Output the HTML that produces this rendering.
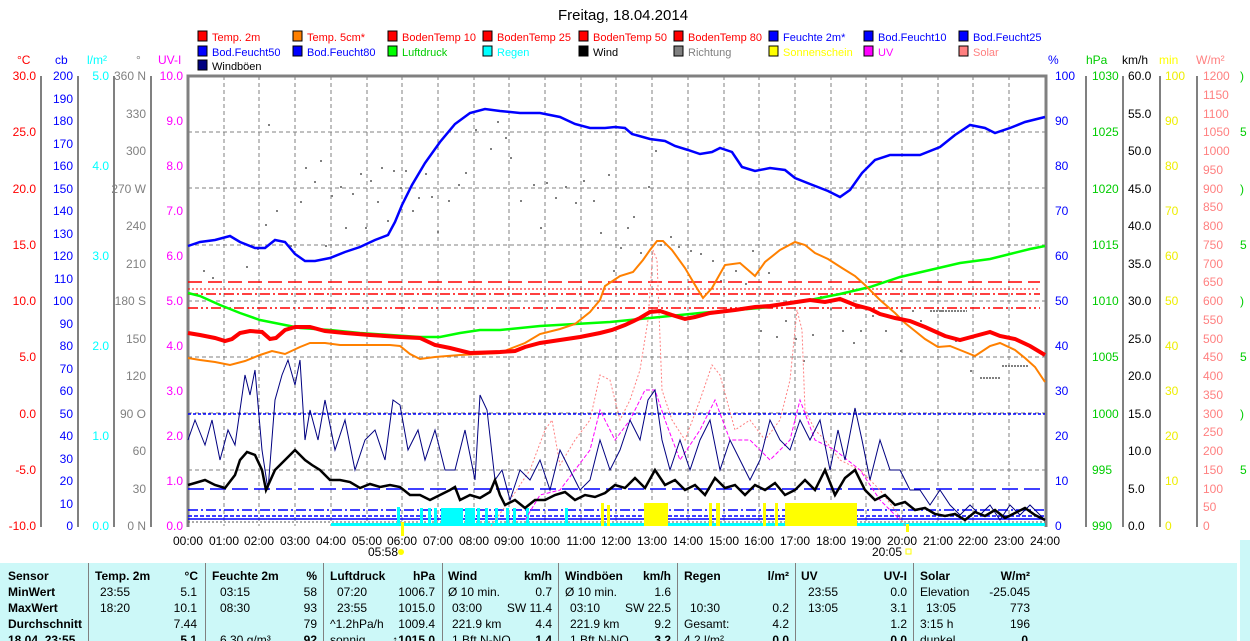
<!DOCTYPE html>
<html><head><meta charset="utf-8"><style>
html,body{margin:0;padding:0;background:#fff;width:1250px;height:641px;overflow:hidden}
svg{display:block;font-family:"Liberation Sans",sans-serif;font-size:12px}
</style></head><body>
<svg width="1250" height="641" viewBox="0 0 1250 641" xmlns="http://www.w3.org/2000/svg">
<rect width="1250" height="641" fill="#fff"/>
<text x="623" y="20" text-anchor="middle" font-size="15" fill="#000">Freitag, 18.04.2014</text>
<!-- legend -->
<g font-size="11">
<g stroke="#000" stroke-width="1">
<rect x="198" y="31" width="9" height="10" fill="#f00"/><rect x="293" y="31" width="9" height="10" fill="#ff8000"/><rect x="388" y="31" width="9" height="10" fill="#f00"/><rect x="483" y="31" width="9" height="10" fill="#f00"/><rect x="579" y="31" width="9" height="10" fill="#f00"/><rect x="674" y="31" width="9" height="10" fill="#f00"/><rect x="769" y="31" width="9" height="10" fill="#00f"/><rect x="864" y="31" width="9" height="10" fill="#00f"/><rect x="959" y="31" width="9" height="10" fill="#00f"/>
<rect x="198" y="46" width="9" height="10" fill="#00f"/><rect x="293" y="46" width="9" height="10" fill="#00f"/><rect x="388" y="46" width="9" height="10" fill="#0f0"/><rect x="483" y="46" width="9" height="10" fill="#0ff"/><rect x="579" y="46" width="9" height="10" fill="#000"/><rect x="674" y="46" width="9" height="10" fill="#808080"/><rect x="769" y="46" width="9" height="10" fill="#ff0"/><rect x="864" y="46" width="9" height="10" fill="#f0f"/><rect x="959" y="46" width="9" height="10" fill="#ff8080"/>
<rect x="198" y="60" width="9" height="10" fill="#000080"/>
</g>
<text x="212" y="41" fill="#f00">Temp. 2m</text><text x="307" y="41" fill="#f00">Temp. 5cm*</text><text x="402" y="41" fill="#f00">BodenTemp 10</text><text x="497" y="41" fill="#f00">BodenTemp 25</text><text x="593" y="41" fill="#f00">BodenTemp 50</text><text x="688" y="41" fill="#f00">BodenTemp 80</text><text x="783" y="41" fill="#00f">Feuchte 2m*</text><text x="878" y="41" fill="#00f">Bod.Feucht10</text><text x="973" y="41" fill="#00f">Bod.Feucht25</text>
<text x="212" y="56" fill="#00f">Bod.Feucht50</text><text x="307" y="56" fill="#00f">Bod.Feucht80</text><text x="402" y="56" fill="#0c0">Luftdruck</text><text x="497" y="56" fill="#0ff">Regen</text><text x="593" y="56" fill="#000">Wind</text><text x="688" y="56" fill="#808080">Richtung</text><text x="783" y="56" fill="#ff0">Sonnenschein</text><text x="878" y="56" fill="#f0f">UV</text><text x="973" y="56" fill="#ff8080">Solar</text>
<text x="212" y="70" fill="#000">Windböen</text>
</g>
<!-- axis titles -->
<g font-size="12">
<text x="17" y="64" fill="#f00">°C</text><text x="55" y="64" fill="#00f">cb</text><text x="87" y="64" fill="#0ff">l/m²</text><text x="136" y="64" fill="#808080">°</text><text x="158" y="64" fill="#f0f">UV-I</text>
<text x="1048" y="64" fill="#00f">%</text><text x="1086" y="64" fill="#0c0">hPa</text><text x="1122" y="64" fill="#000">km/h</text><text x="1159" y="64" fill="#ff0">min</text><text x="1196" y="64" fill="#ff8080">W/m²</text>
</g>
<!-- axis lines -->
<g stroke="#808080" stroke-width="2">
<line x1="41" y1="76" x2="41" y2="527"/><line x1="78" y1="76" x2="78" y2="527"/><line x1="114" y1="76" x2="114" y2="527"/><line x1="151" y1="76" x2="151" y2="527"/>
<line x1="1086" y1="76" x2="1086" y2="527"/><line x1="1123" y1="76" x2="1123" y2="527"/><line x1="1160" y1="76" x2="1160" y2="527"/><line x1="1197" y1="76" x2="1197" y2="527"/>
</g>
<!-- left ticks -->
<g font-size="12" text-anchor="end">
<g fill="#f00"><text x="36" y="80">30.0</text><text x="36" y="136">25.0</text><text x="36" y="193">20.0</text><text x="36" y="249">15.0</text><text x="36" y="305">10.0</text><text x="36" y="361">5.0</text><text x="36" y="418">0.0</text><text x="36" y="474">-5.0</text><text x="36" y="530">-10.0</text></g>
<g fill="#00f"><text x="73" y="80">200</text><text x="73" y="103">190</text><text x="73" y="125">180</text><text x="73" y="148">170</text><text x="73" y="170">160</text><text x="73" y="193">150</text><text x="73" y="215">140</text><text x="73" y="238">130</text><text x="73" y="260">120</text><text x="73" y="283">110</text><text x="73" y="305">100</text><text x="73" y="328">90</text><text x="73" y="350">80</text><text x="73" y="373">70</text><text x="73" y="395">60</text><text x="73" y="418">50</text><text x="73" y="440">40</text><text x="73" y="463">30</text><text x="73" y="485">20</text><text x="73" y="508">10</text><text x="73" y="530">0</text></g>
<g fill="#0ff"><text x="109" y="80">5.0</text><text x="109" y="170">4.0</text><text x="109" y="260">3.0</text><text x="109" y="350">2.0</text><text x="109" y="440">1.0</text><text x="109" y="530">0.0</text></g>
<g fill="#808080"><text x="146" y="80">360 N</text><text x="146" y="118">330</text><text x="146" y="155">300</text><text x="146" y="193">270 W</text><text x="146" y="230">240</text><text x="146" y="268">210</text><text x="146" y="305">180 S</text><text x="146" y="343">150</text><text x="146" y="380">120</text><text x="146" y="418">90 O</text><text x="146" y="455">60</text><text x="146" y="493">30</text><text x="146" y="530">0 N</text></g>
<g fill="#f0f"><text x="183" y="80">10.0</text><text x="183" y="125">9.0</text><text x="183" y="170">8.0</text><text x="183" y="215">7.0</text><text x="183" y="260">6.0</text><text x="183" y="305">5.0</text><text x="183" y="350">4.0</text><text x="183" y="395">3.0</text><text x="183" y="440">2.0</text><text x="183" y="485">1.0</text><text x="183" y="530">0.0</text></g>
</g>
<!-- right ticks -->
<g font-size="12">
<g fill="#00f"><text x="1055" y="80">100</text><text x="1055" y="125">90</text><text x="1055" y="170">80</text><text x="1055" y="215">70</text><text x="1055" y="260">60</text><text x="1055" y="305">50</text><text x="1055" y="350">40</text><text x="1055" y="395">30</text><text x="1055" y="440">20</text><text x="1055" y="485">10</text><text x="1055" y="530">0</text></g>
<g fill="#0c0"><text x="1092" y="80">1030</text><text x="1092" y="136">1025</text><text x="1092" y="193">1020</text><text x="1092" y="249">1015</text><text x="1092" y="305">1010</text><text x="1092" y="361">1005</text><text x="1092" y="418">1000</text><text x="1092" y="474">995</text><text x="1092" y="530">990</text></g>
<g fill="#000"><text x="1128" y="80">60.0</text><text x="1128" y="118">55.0</text><text x="1128" y="155">50.0</text><text x="1128" y="193">45.0</text><text x="1128" y="230">40.0</text><text x="1128" y="268">35.0</text><text x="1128" y="305">30.0</text><text x="1128" y="343">25.0</text><text x="1128" y="380">20.0</text><text x="1128" y="418">15.0</text><text x="1128" y="455">10.0</text><text x="1128" y="493">5.0</text><text x="1128" y="530">0.0</text></g>
<g fill="#ee0"><text x="1165" y="80">100</text><text x="1165" y="125">90</text><text x="1165" y="170">80</text><text x="1165" y="215">70</text><text x="1165" y="260">60</text><text x="1165" y="305">50</text><text x="1165" y="350">40</text><text x="1165" y="395">30</text><text x="1165" y="440">20</text><text x="1165" y="485">10</text><text x="1165" y="530">0</text></g>
<g fill="#ff8080"><text x="1203" y="80">1200</text><text x="1203" y="99">1150</text><text x="1203" y="118">1100</text><text x="1203" y="136">1050</text><text x="1203" y="155">1000</text><text x="1203" y="174">950</text><text x="1203" y="193">900</text><text x="1203" y="211">850</text><text x="1203" y="230">800</text><text x="1203" y="249">750</text><text x="1203" y="268">700</text><text x="1203" y="286">650</text><text x="1203" y="305">600</text><text x="1203" y="324">550</text><text x="1203" y="343">500</text><text x="1203" y="361">450</text><text x="1203" y="380">400</text><text x="1203" y="399">350</text><text x="1203" y="418">300</text><text x="1203" y="436">250</text><text x="1203" y="455">200</text><text x="1203" y="474">150</text><text x="1203" y="493">100</text><text x="1203" y="511">50</text><text x="1203" y="530">0</text></g>
<g fill="#0c0"><text x="1240" y="80">)</text><text x="1240" y="136">5</text><text x="1240" y="193">)</text><text x="1240" y="249">5</text><text x="1240" y="305">)</text><text x="1240" y="361">5</text><text x="1240" y="418">)</text><text x="1240" y="474">5</text></g>
</g>
<!-- grid -->
<g stroke="#808080" stroke-width="1" stroke-dasharray="4,3">
<line x1="188" y1="132" x2="1045" y2="132"/><line x1="188" y1="188" x2="1045" y2="188"/><line x1="188" y1="245" x2="1045" y2="245"/><line x1="188" y1="301" x2="1045" y2="301"/><line x1="188" y1="357" x2="1045" y2="357"/><line x1="188" y1="413" x2="1045" y2="413"/><line x1="188" y1="470" x2="1045" y2="470"/>
<line x1="224" y1="76" x2="224" y2="526"/><line x1="259" y1="76" x2="259" y2="526"/><line x1="295" y1="76" x2="295" y2="526"/><line x1="331" y1="76" x2="331" y2="526"/><line x1="367" y1="76" x2="367" y2="526"/><line x1="402" y1="76" x2="402" y2="526"/><line x1="438" y1="76" x2="438" y2="526"/><line x1="474" y1="76" x2="474" y2="526"/><line x1="509" y1="76" x2="509" y2="526"/><line x1="545" y1="76" x2="545" y2="526"/><line x1="581" y1="76" x2="581" y2="526"/><line x1="616" y1="76" x2="616" y2="526"/><line x1="652" y1="76" x2="652" y2="526"/><line x1="688" y1="76" x2="688" y2="526"/><line x1="724" y1="76" x2="724" y2="526"/><line x1="759" y1="76" x2="759" y2="526"/><line x1="795" y1="76" x2="795" y2="526"/><line x1="831" y1="76" x2="831" y2="526"/><line x1="866" y1="76" x2="866" y2="526"/><line x1="902" y1="76" x2="902" y2="526"/><line x1="938" y1="76" x2="938" y2="526"/><line x1="973" y1="76" x2="973" y2="526"/><line x1="1009" y1="76" x2="1009" y2="526"/>
</g>
<!-- plot frame -->
<path d="M188,527 L188,76 L1046,76 L1046,527" fill="none" stroke="#808080" stroke-width="3"/>
<!-- Richtung dots -->
<g fill="#808080">
<rect x="268" y="124" width="2" height="2"/><rect x="203" y="270" width="2" height="2"/><rect x="212" y="277" width="2" height="2"/><rect x="230" y="300" width="2" height="2"/><rect x="246" y="266" width="2" height="2"/><rect x="257" y="248" width="2" height="2"/><rect x="265" y="224" width="2" height="2"/><rect x="276" y="210" width="2" height="2"/><rect x="290" y="245" width="2" height="2"/><rect x="300" y="201" width="2" height="2"/><rect x="305" y="167" width="2" height="2"/><rect x="314" y="181" width="2" height="2"/><rect x="320" y="160" width="2" height="2"/><rect x="325" y="245" width="2" height="2"/><rect x="331" y="195" width="2" height="2"/><rect x="340" y="186" width="2" height="2"/><rect x="345" y="227" width="2" height="2"/><rect x="352" y="193" width="2" height="2"/><rect x="360" y="173" width="2" height="2"/><rect x="365" y="227" width="2" height="2"/><rect x="370" y="180" width="2" height="2"/><rect x="377" y="201" width="2" height="2"/><rect x="381" y="167" width="2" height="2"/><rect x="387" y="220" width="2" height="2"/><rect x="393" y="170" width="2" height="2"/><rect x="400" y="187" width="2" height="2"/><rect x="405" y="170" width="2" height="2"/><rect x="412" y="210" width="2" height="2"/><rect x="418" y="197" width="2" height="2"/><rect x="425" y="173" width="2" height="2"/><rect x="431" y="196" width="2" height="2"/><rect x="437" y="231" width="2" height="2"/><rect x="448" y="200" width="2" height="2"/><rect x="458" y="184" width="2" height="2"/><rect x="465" y="172" width="2" height="2"/><rect x="475" y="129" width="2" height="2"/><rect x="490" y="148" width="2" height="2"/><rect x="497" y="121" width="2" height="2"/><rect x="505" y="137" width="2" height="2"/><rect x="510" y="157" width="2" height="2"/><rect x="520" y="200" width="2" height="2"/><rect x="533" y="184" width="2" height="2"/><rect x="540" y="227" width="2" height="2"/><rect x="546" y="182" width="2" height="2"/><rect x="555" y="197" width="2" height="2"/><rect x="565" y="186" width="2" height="2"/><rect x="575" y="202" width="2" height="2"/><rect x="583" y="180" width="2" height="2"/><rect x="593" y="200" width="2" height="2"/><rect x="600" y="232" width="2" height="2"/><rect x="608" y="174" width="2" height="2"/><rect x="613" y="270" width="2" height="2"/><rect x="620" y="247" width="2" height="2"/><rect x="627" y="227" width="2" height="2"/><rect x="633" y="216" width="2" height="2"/><rect x="640" y="252" width="2" height="2"/><rect x="648" y="186" width="2" height="2"/><rect x="655" y="150" width="2" height="2"/><rect x="660" y="244" width="2" height="2"/><rect x="670" y="236" width="2" height="2"/><rect x="678" y="246" width="2" height="2"/><rect x="690" y="250" width="2" height="2"/><rect x="700" y="253" width="2" height="2"/><rect x="712" y="260" width="2" height="2"/><rect x="720" y="280" width="2" height="2"/><rect x="735" y="270" width="2" height="2"/><rect x="745" y="283" width="2" height="2"/><rect x="752" y="250" width="2" height="2"/><rect x="760" y="330" width="2" height="2"/><rect x="768" y="272" width="2" height="2"/><rect x="776" y="336" width="2" height="2"/><rect x="785" y="320" width="2" height="2"/><rect x="795" y="338" width="2" height="2"/><rect x="803" y="360" width="2" height="2"/><rect x="812" y="334" width="2" height="2"/><rect x="820" y="296" width="2" height="2"/><rect x="830" y="308" width="2" height="2"/><rect x="842" y="330" width="2" height="2"/><rect x="853" y="342" width="2" height="2"/><rect x="860" y="330" width="2" height="2"/><rect x="872" y="315" width="2" height="2"/><rect x="885" y="330" width="2" height="2"/><rect x="900" y="350" width="2" height="2"/><rect x="912" y="310" width="2" height="2"/><rect x="920" y="320" width="2" height="2"/><rect x="940" y="310" width="2" height="2"/><rect x="955" y="340" width="2" height="2"/><rect x="970" y="370" width="2" height="2"/>
</g>
<g stroke="#808080" stroke-width="2" stroke-dasharray="2,1" fill="none"><line x1="930" y1="311" x2="967" y2="311"/><line x1="1002" y1="366" x2="1029" y2="366"/><line x1="980" y1="378" x2="1000" y2="378"/></g>
<!-- horizontal soil lines -->
<g fill="none" stroke-width="1.5">
<path d="M188,282 L1040,282" stroke="#f00" stroke-dasharray="14,6"/>
<path d="M188,289 L1040,289" stroke="#f00" stroke-dasharray="2,2" stroke-width="1"/>
<path d="M188,294 L1040,294" stroke="#f00" stroke-dasharray="10,3,2,3"/>
<path d="M188,308 L1040,308" stroke="#f00" stroke-dasharray="10,3,2,3,2,3"/>
<path d="M188,414 L1045,414" stroke="#00f" stroke-dasharray="3,2"/>
<path d="M188,489 L1045,489" stroke="#00f" stroke-dasharray="16,6"/>
<path d="M188,510 L1045,510" stroke="#00f" stroke-dasharray="10,3,2,3"/>
<path d="M188,516 L1045,516" stroke="#00f" stroke-dasharray="4,2"/>
<path d="M188,519 L1045,519" stroke="#00f"/>
<path d="M188,522 L1045,522" stroke="#555" stroke-dasharray="2,2" stroke-width="1"/>
</g>
<!-- rain -->
<g fill="#0ff">
<rect x="331" y="523" width="714" height="3"/>
<rect x="397" y="507" width="3" height="19"/><rect x="420" y="508" width="3" height="18"/><rect x="428" y="508" width="3" height="18"/><rect x="434" y="508" width="3" height="18"/><rect x="441" y="508" width="22" height="18"/><rect x="465" y="508" width="10" height="18"/><rect x="477" y="508" width="3" height="18"/><rect x="485" y="508" width="3" height="18"/><rect x="495" y="508" width="3" height="18"/><rect x="506" y="508" width="3" height="18"/><rect x="513" y="508" width="3" height="18"/><rect x="526" y="508" width="3" height="18"/><rect x="565" y="508" width="3" height="18"/>
</g>
<!-- sunshine -->
<g fill="#ff0">
<rect x="401" y="522" width="3" height="14"/><rect x="601" y="503" width="3" height="23"/><rect x="607" y="505" width="3" height="21"/><rect x="644" y="503" width="24" height="23"/><rect x="709" y="503" width="3" height="23"/><rect x="716" y="503" width="4" height="23"/><rect x="763" y="503" width="3" height="23"/><rect x="775" y="503" width="3" height="23"/><rect x="785" y="503" width="72" height="23"/><rect x="906" y="524" width="3" height="8"/>
</g>
<!-- solar -->
<polyline fill="none" stroke="#ff8080" stroke-width="1" stroke-dasharray="2,2" points="491,526 510,500 530,470 545,430 552,420 560,465 575,440 590,420 600,375 610,380 620,420 630,400 640,370 648,320 653,250 657,260 662,390 672,420 685,440 700,400 712,365 720,375 735,430 750,420 765,440 780,420 790,380 797,310 802,330 805,410 815,430 825,440 840,460 860,470 880,490 895,510 905,526"/>
<!-- UV -->
<polyline fill="none" stroke="#f0f" stroke-width="1" stroke-dasharray="4,2" points="525,520 540,495 560,490 575,470 590,450 600,410 615,440 630,420 645,390 655,390 665,420 680,460 700,430 715,400 730,440 750,440 770,460 790,440 800,400 815,440 835,450 860,470 880,500 900,520"/>
<!-- Windböen -->
<polyline fill="none" stroke="#000080" stroke-width="1" points="188,440 195,420 205,445 212,420 220,460 228,430 235,445 245,375 250,395 255,370 262,450 268,490 275,400 282,375 288,360 295,385 300,360 305,440 310,410 318,440 325,400 335,450 345,420 355,470 365,440 375,430 385,460 393,400 400,405 408,450 418,430 425,460 435,430 445,470 455,470 465,430 475,480 480,395 487,410 495,480 502,470 510,500 520,470 530,480 540,460 550,490 560,450 570,470 580,490 590,480 600,440 610,470 620,450 630,420 640,440 648,400 655,390 662,440 670,470 680,440 690,470 700,440 710,420 720,470 730,440 740,460 750,480 760,460 770,420 780,440 790,450 800,420 810,440 820,420 830,470 838,430 845,460 855,408 862,440 870,480 880,440 890,470 900,470 910,490 920,490 930,505 940,490 950,505 960,515 970,505 980,515 990,505 1000,520 1010,505 1020,515 1030,505 1040,515 1045,520"/>
<!-- Wind -->
<polyline fill="none" stroke="#000" stroke-width="2.5" points="188,485 195,483 205,480 215,485 225,488 235,475 240,460 247,452 255,455 262,470 266,490 275,470 290,455 295,450 300,455 305,460 312,465 320,470 330,480 340,480 350,482 360,488 370,484 380,487 390,485 400,487 410,495 420,495 430,500 440,495 450,490 455,487 460,500 470,495 480,498 490,492 495,480 500,495 505,505 515,500 525,508 535,500 545,500 555,495 565,492 575,500 585,495 595,497 605,493 615,485 625,488 635,478 645,488 655,470 665,485 675,480 685,490 695,485 705,495 715,478 725,488 735,485 745,495 755,485 765,490 775,483 785,495 795,490 805,480 815,490 825,470 835,495 845,478 855,470 865,490 875,500 885,495 895,505 905,502 915,510 925,508 935,514 945,516 955,514 965,520 975,512 985,516 995,510 1005,518 1015,513 1025,508 1035,515 1045,520"/>
<!-- Luftdruck -->
<polyline fill="none" stroke="#0f0" stroke-width="2.5" points="188,293 200,296 220,305 240,313 260,320 285,325 300,328 330,330 360,333 390,335 420,337 440,337 460,333 480,330 500,330 540,326 575,324 610,322 650,318 700,313 760,308 800,302 840,294 870,287 900,277 930,270 960,263 990,259 1010,254 1030,249 1045,246"/>
<!-- Feuchte -->
<polyline fill="none" stroke="#00f" stroke-width="2.5" points="188,246 200,242 215,240 230,236 240,242 255,248 265,248 275,240 285,242 295,254 305,261 315,261 330,258 345,252 360,247 375,240 388,235 395,222 402,205 412,185 425,163 440,142 455,124 470,113 485,109 500,111 520,113 540,113 560,117 575,124 590,128 605,128 615,127 625,128 632,134 650,139 665,141 675,146 688,150 700,154 712,152 720,148 732,152 742,167 755,171 770,168 785,170 795,178 810,184 828,191 840,197 850,190 862,173 875,160 890,155 905,155 920,155 940,147 955,135 970,125 985,128 995,133 1010,128 1025,122 1045,117"/>
<!-- Temp 5cm -->
<polyline fill="none" stroke="#ff8000" stroke-width="2" points="188,358 200,360 215,362 230,365 245,361 260,355 272,351 285,354 300,347 310,343 325,343 340,345 365,345 390,345 400,346 410,354 420,359 435,357 460,355 480,354 500,353 512,348 525,343 540,334 560,329 575,324 590,312 600,300 605,286 620,276 633,272 643,260 650,250 657,241 663,241 672,250 685,268 695,285 703,298 712,288 725,265 740,263 755,276 765,262 780,250 795,242 805,245 815,253 828,259 842,268 855,276 865,285 880,300 895,313 905,323 915,331 925,339 938,347 950,346 965,352 975,356 990,346 1000,343 1015,350 1025,358 1035,367 1045,382"/>
<!-- Temp 2m -->
<polyline fill="none" stroke="#f00" stroke-width="4" points="188,333 200,335 215,338 225,341 232,339 240,333 250,331 262,332 270,339 276,338 285,330 295,327 310,327 325,331 345,333 370,335 400,337 420,338 435,345 450,348 470,353 500,352 515,351 525,347 540,343 560,340 580,337 600,333 612,330 625,325 640,318 650,312 660,311 672,315 685,319 695,317 710,313 735,310 755,307 770,306 790,303 810,300 825,302 840,299 855,305 870,309 880,314 895,318 910,321 925,327 945,336 960,340 975,336 990,332 1000,336 1015,339 1030,346 1045,355"/>
<!-- time labels -->
<g font-size="12" fill="#000" text-anchor="middle">
<text x="188" y="545">00:00</text><text x="224" y="545">01:00</text><text x="259" y="545">02:00</text><text x="295" y="545">03:00</text><text x="331" y="545">04:00</text><text x="367" y="545">05:00</text><text x="402" y="545">06:00</text><text x="438" y="545">07:00</text><text x="474" y="545">08:00</text><text x="509" y="545">09:00</text><text x="545" y="545">10:00</text><text x="581" y="545">11:00</text><text x="616" y="545">12:00</text><text x="652" y="545">13:00</text><text x="688" y="545">14:00</text><text x="724" y="545">15:00</text><text x="759" y="545">16:00</text><text x="795" y="545">17:00</text><text x="831" y="545">18:00</text><text x="866" y="545">19:00</text><text x="902" y="545">20:00</text><text x="938" y="545">21:00</text><text x="973" y="545">22:00</text><text x="1009" y="545">23:00</text><text x="1045" y="545">24:00</text>
<text x="383" y="556">05:58</text><text x="887" y="556">20:05</text>
</g>
<circle cx="401" cy="552" r="3" fill="#ff0"/><rect x="906" y="549" width="5" height="5" fill="none" stroke="#ff0"/>
<!-- table -->
<rect x="0" y="563" width="1237" height="78" fill="#ccf8f8"/>
<rect x="1240" y="540" width="10" height="101" fill="#ccf8f8"/>
<g stroke="#808080" stroke-width="1"><line x1="88.5" y1="563" x2="88.5" y2="641"/><line x1="205.5" y1="563" x2="205.5" y2="641"/><line x1="323.5" y1="563" x2="323.5" y2="641"/><line x1="442.5" y1="563" x2="442.5" y2="641"/><line x1="558.5" y1="563" x2="558.5" y2="641"/><line x1="677.5" y1="563" x2="677.5" y2="641"/><line x1="795.5" y1="563" x2="795.5" y2="641"/><line x1="913.5" y1="563" x2="913.5" y2="641"/></g>
<g font-size="12" fill="#000">
<g font-weight="bold"><text x="8" y="580">Sensor</text><text x="8" y="596">MinWert</text><text x="8" y="612">MaxWert</text><text x="8" y="628">Durchschnitt</text><text x="8" y="644">18.04. 23:55</text>
<text x="95" y="580">Temp. 2m</text><text x="212" y="580">Feuchte 2m</text><text x="330" y="580">Luftdruck</text><text x="448" y="580">Wind</text><text x="565" y="580">Windböen</text><text x="684" y="580">Regen</text><text x="801" y="580">UV</text><text x="920" y="580">Solar</text></g>
<g font-weight="bold" text-anchor="end"><text x="198" y="580">°C</text><text x="317" y="580">%</text><text x="435" y="580">hPa</text><text x="552" y="580">km/h</text><text x="671" y="580">km/h</text><text x="789" y="580">l/m²</text><text x="907" y="580">UV-I</text><text x="1030" y="580">W/m²</text>
<text x="197" y="644">5.1</text><text x="317" y="644">92</text><text x="435" y="644">↑1015.0</text><text x="552" y="644">1.4</text><text x="671" y="644">3.2</text><text x="789" y="644">0.0</text><text x="907" y="644">0.0</text><text x="1028" y="644">0</text></g>
<text x="100" y="596">23:55</text><text x="100" y="612">18:20</text>
<text x="220" y="596">03:15</text><text x="220" y="612">08:30</text><text x="220" y="644">6.30 g/m³</text>
<text x="337" y="596">07:20</text><text x="337" y="612">23:55</text><text x="330" y="628">^1.2hPa/h</text><text x="330" y="644">sonnig</text>
<text x="448" y="596">Ø 10 min.</text><text x="452" y="612">03:00</text><text x="452" y="628">221.9 km</text><text x="452" y="644">1 Bft N-NO</text>
<text x="565" y="596">Ø 10 min.</text><text x="570" y="612">03:10</text><text x="570" y="628">221.9 km</text><text x="570" y="644">1 Bft N-NO</text>
<text x="690" y="612">10:30</text><text x="684" y="628">Gesamt:</text><text x="684" y="644">4.2 l/m²</text>
<text x="808" y="596">23:55</text><text x="808" y="612">13:05</text>
<text x="920" y="596">Elevation</text><text x="926" y="612">13:05</text><text x="920" y="628">3:15 h</text><text x="920" y="644">dunkel</text>
<g text-anchor="end"><text x="197" y="596">5.1</text><text x="197" y="612">10.1</text><text x="197" y="628">7.44</text>
<text x="317" y="596">58</text><text x="317" y="612">93</text><text x="317" y="628">79</text>
<text x="435" y="596">1006.7</text><text x="435" y="612">1015.0</text><text x="435" y="628">1009.4</text>
<text x="552" y="596">0.7</text><text x="552" y="612">SW 11.4</text><text x="552" y="628">4.4</text>
<text x="671" y="596">1.6</text><text x="671" y="612">SW 22.5</text><text x="671" y="628">9.2</text>
<text x="789" y="612">0.2</text><text x="789" y="628">4.2</text>
<text x="907" y="596">0.0</text><text x="907" y="612">3.1</text><text x="907" y="628">1.2</text>
<text x="1030" y="596">-25.045</text><text x="1030" y="612">773</text><text x="1030" y="628">196</text></g>
</g>
</svg>
</body></html>
